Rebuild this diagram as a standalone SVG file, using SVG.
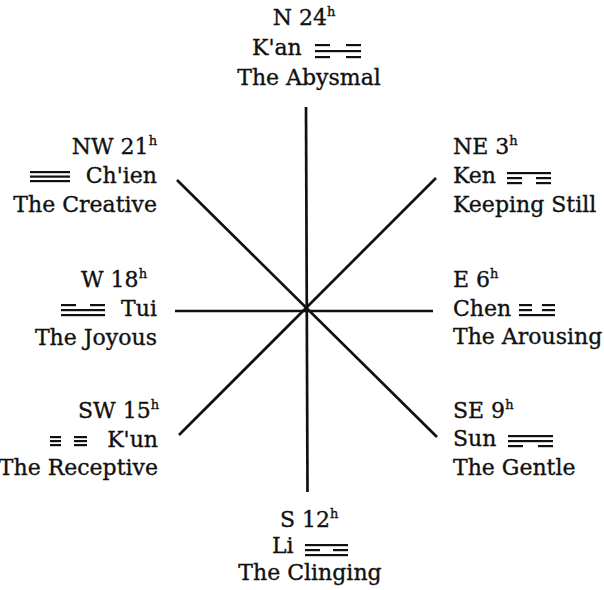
<svg xmlns="http://www.w3.org/2000/svg" width="604" height="590" viewBox="0 0 604 590">
<style>
text{font-family:"DejaVu Serif","Liberation Serif",serif;font-size:22px;fill:#111;stroke:#111;stroke-width:0.35}
.sup{font-size:13px}
.e{text-anchor:end}
.m{text-anchor:middle}
.bar{fill:#111}
.spoke{stroke:#111;stroke-width:2.7;stroke-linecap:butt}
</style>
<rect width="604" height="590" fill="#fff"/>
<g id="connectors">
<line class="spoke" x1="306" y1="107" x2="307.5" y2="492"/>
<line class="spoke" x1="175" y1="311" x2="433" y2="311"/>
<line class="spoke" x1="177" y1="180" x2="437" y2="437"/>
<line class="spoke" x1="436" y1="178" x2="179" y2="435"/>
</g>
<g id="node-n">
<text class="m" x="304" y="25">N 24<tspan class="sup" dy="-9">h</tspan></text>
<text x="252" y="55">K'an</text>
<g id="trigram-kan">
<rect class="bar" x="315" y="44" width="15" height="2.2"/><rect class="bar" x="346" y="44" width="15" height="2.2"/>
<rect class="bar" x="315" y="50" width="46" height="2.2"/>
<rect class="bar" x="315" y="56" width="15" height="2.2"/><rect class="bar" x="346" y="56" width="15" height="2.2"/>
</g>
<text class="m" x="309" y="85">The Abysmal</text>
</g>
<g id="node-nw">
<text class="e" x="157" y="154">NW 21<tspan class="sup" dy="-9">h</tspan></text>
<text class="e" x="157" y="183">Ch'ien</text>
<g id="trigram-chien">
<rect class="bar" x="30" y="171" width="40" height="2.2"/>
<rect class="bar" x="30" y="175.5" width="40" height="2.2"/>
<rect class="bar" x="30" y="180" width="40" height="2.2"/>
</g>
<text class="e" x="157" y="212">The Creative</text>
</g>
<g id="node-ne">
<text x="453" y="154">NE 3<tspan class="sup" dy="-9">h</tspan></text>
<text x="453" y="183">Ken</text>
<g id="trigram-ken">
<rect class="bar" x="507" y="172" width="44" height="2.2"/>
<rect class="bar" x="507" y="177" width="15" height="2.2"/><rect class="bar" x="536" y="177" width="15" height="2.2"/>
<rect class="bar" x="507" y="182" width="15" height="2.2"/><rect class="bar" x="536" y="182" width="15" height="2.2"/>
</g>
<text x="453" y="212">Keeping Still</text>
</g>
<g id="node-w">
<text class="e" x="147" y="287">W 18<tspan class="sup" dy="-9">h</tspan></text>
<text class="e" x="157" y="316">Tui</text>
<g id="trigram-tui">
<rect class="bar" x="61" y="304" width="15" height="2.2"/><rect class="bar" x="90" y="304" width="15" height="2.2"/>
<rect class="bar" x="61" y="309" width="44" height="2.2"/>
<rect class="bar" x="61" y="314" width="44" height="2.2"/>
</g>
<text class="e" x="157" y="345">The Joyous</text>
</g>
<g id="node-e">
<text x="453" y="287">E 6<tspan class="sup" dy="-9">h</tspan></text>
<text x="453" y="316">Chen</text>
<g id="trigram-chen">
<rect class="bar" x="519" y="304" width="13" height="2.2"/><rect class="bar" x="542" y="304" width="13" height="2.2"/>
<rect class="bar" x="519" y="309" width="13" height="2.2"/><rect class="bar" x="542" y="309" width="13" height="2.2"/>
<rect class="bar" x="519" y="314" width="36" height="2.2"/>
</g>
<text x="453" y="344">The Arousing</text>
</g>
<g id="node-sw">
<text class="e" x="159" y="418">SW 15<tspan class="sup" dy="-9">h</tspan></text>
<text class="e" x="158" y="447">K'un</text>
<g id="trigram-kun">
<rect class="bar" x="50" y="436" width="11" height="2.2"/><rect class="bar" x="74" y="436" width="13" height="2.2"/>
<rect class="bar" x="50" y="440" width="11" height="2.2"/><rect class="bar" x="74" y="440" width="13" height="2.2"/>
<rect class="bar" x="50" y="444" width="11" height="2.2"/><rect class="bar" x="74" y="444" width="13" height="2.2"/>
</g>
<text class="e" x="158" y="475">The Receptive</text>
</g>
<g id="node-se">
<text x="453" y="418">SE 9<tspan class="sup" dy="-9">h</tspan></text>
<text x="453" y="446">Sun</text>
<g id="trigram-sun">
<rect class="bar" x="508" y="435" width="45" height="2.2"/>
<rect class="bar" x="508" y="440" width="45" height="2.2"/>
<rect class="bar" x="508" y="445" width="15" height="2.2"/><rect class="bar" x="538" y="445" width="15" height="2.2"/>
</g>
<text x="453" y="475">The Gentle</text>
</g>
<g id="node-s">
<text x="280" y="527">S 12<tspan class="sup" dy="-9">h</tspan></text>
<text x="272" y="553">Li</text>
<g id="trigram-li">
<rect class="bar" x="305" y="544" width="43" height="2.2"/>
<rect class="bar" x="305" y="549" width="15" height="2.2"/><rect class="bar" x="333" y="549" width="15" height="2.2"/>
<rect class="bar" x="305" y="554" width="43" height="2.2"/>
</g>
<text class="m" x="310" y="580">The Clinging</text>
</g>
</svg>
